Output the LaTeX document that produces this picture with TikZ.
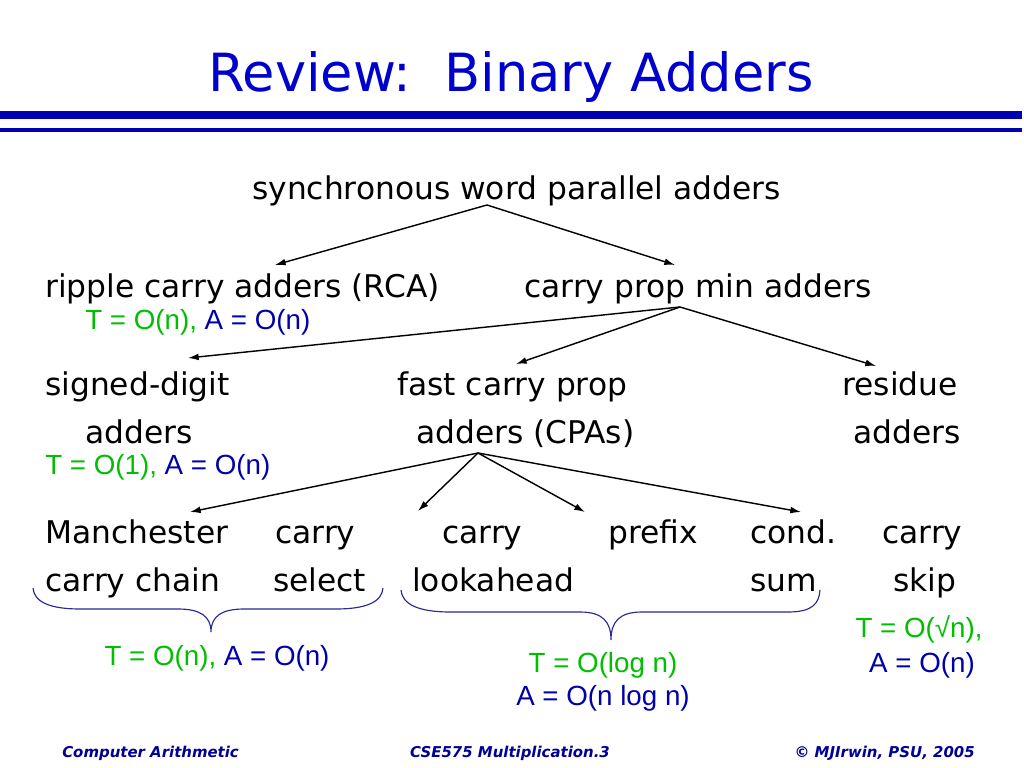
\documentclass[tikz,border=0pt]{standalone}
\usepackage{fontspec}
\setmainfont{DejaVu Sans}
\newfontfamily\arialf{Liberation Sans}
\usetikzlibrary{arrows.meta}
\definecolor{titleblue}{RGB}{0,0,204}
\definecolor{rulebl}{RGB}{0,0,176}
\definecolor{tgreen}{RGB}{0,190,0}
\definecolor{ablue}{RGB}{0,0,170}
\definecolor{bracec}{RGB}{40,40,150}
\definecolor{footblue}{RGB}{0,0,150}
\begin{document}
\begin{tikzpicture}[x=0.703125pt,y=-0.703125pt,
  lbl/.style={inner sep=0pt,font=\fontsize{22}{26}\selectfont,anchor=base west},
  cplx/.style={inner sep=0pt,font=\arialf\fontsize{19.5}{23}\selectfont,anchor=base},
  arr/.style={-{Latex[length=7.5pt,width=4.8pt]},line width=1pt},
  brace/.style={draw=bracec,line width=0.8pt},
  foot/.style={inner sep=0pt,font=\bfseries\itshape\fontsize{10.5}{12}\selectfont,text=footblue}]
\useasboundingbox[fill=white] (0,0) rectangle (1024,768);
% title and rules
\node[inner sep=0pt,anchor=base,text=titleblue,font=\fontsize{37}{44}\selectfont] (title) at (511,92) {Review:~~Binary Adders};
\fill[rulebl] (0,111) rectangle (1022,119);
\fill[rulebl] (0,128) rectangle (1022,132);
% tree texts
\node[lbl] (sync) at (252,200) {synchronous word parallel adders};
\node[lbl] (rca) at (45,298) {ripple carry adders (RCA)};
\node[lbl] (cpm) at (524,298) {carry prop min adders};
\node[cplx,anchor=base west] (rcat) at (85,330) {\textcolor{tgreen}{T = O(n),} \textcolor{ablue}{A = O(n)}};
\node[lbl] (sd1) at (45,395) {signed-digit};
\node[lbl] (sd2) at (85,443) {adders};
\node[cplx,anchor=base west] (sdt) at (45,474) {\textcolor{tgreen}{T = O(1),} \textcolor{ablue}{A = O(n)}};
\node[lbl] (fc1) at (397,395) {fast carry prop};
\node[lbl] (fc2) at (416,443) {adders (CPAs)};
\node[lbl] (rs1) at (842,395) {residue};
\node[lbl] (rs2) at (853,443) {adders};
\node[lbl] (man1) at (45,543) {Manchester};
\node[lbl] (man2) at (45,591) {carry chain};
\node[lbl] (cs1) at (275,543) {carry};
\node[lbl] (cs2) at (273,591) {select};
\node[lbl] (cla1) at (442,543) {carry};
\node[lbl] (cla2) at (412,591) {lookahead};
\node[lbl] (pre) at (608,543) {prefix};
\node[lbl] (cond1) at (750,543) {cond.};
\node[lbl] (cond2) at (750,591) {sum};
\node[lbl] (skip1) at (882,543) {carry};
\node[lbl] (skip2) at (893,591) {skip};
% complexity labels
\node[cplx] (b1t) at (217,665) {\textcolor{tgreen}{T = O(n),} \textcolor{ablue}{A = O(n)}};
\node[cplx,text=tgreen] (b2t) at (603,672) {T = O(log n)};
\node[cplx,text=ablue] (b2a) at (603,705) {A = O(n log n)};
\node[cplx,text=tgreen] (skt) at (919,637) {T = O(√n),};
\node[cplx,text=ablue] (ska) at (922,672) {A = O(n)};
% footer
\node[foot,anchor=base west] (f1) at (62,757) {Computer Arithmetic};
\node[foot,anchor=base] (f2) at (510,757) {CSE575 Multiplication.3};
\node[foot,anchor=base east] (f3) at (975,757) {© MJIrwin, PSU, 2005};
% connector points
\coordinate (s0) at (487,205);
\coordinate (t0a) at (275,265);
\coordinate (t0b) at (675,265);
\coordinate (s1) at (680,307);
\coordinate (t1a) at (188,358);
\coordinate (t1b) at (516,364);
\coordinate (t1c) at (876,366);
\coordinate (s2) at (478,453);
\coordinate (t2a) at (190,512);
\coordinate (t2b) at (418,511);
\coordinate (t2c) at (585,512);
\coordinate (t2d) at (801,512);
\draw[arr] (s0) -- (t0a);
\draw[arr] (s0) -- (t0b);
\draw[arr] (s1) -- (t1a);
\draw[arr] (s1) -- (t1b);
\draw[arr] (s1) -- (t1c);
\draw[arr] (s2) -- (t2a);
\draw[arr] (s2) -- (t2b);
\draw[arr] (s2) -- (t2c);
\draw[arr] (s2) -- (t2d);
% braces
\draw[brace] (33,588) .. controls (34,602) and (50,609) .. (80,609) -- (178,609)
  .. controls (200,609) and (211,616) .. (211,632)
  .. controls (211,616) and (222,609) .. (244,609) -- (336,609)
  .. controls (366,609) and (382,602) .. (383,588);
\draw[brace] (401,590) .. controls (402,604) and (418,612) .. (450,612) -- (580,612)
  .. controls (603,612) and (611,622) .. (611,640)
  .. controls (611,622) and (619,612) .. (642,612) -- (788,612)
  .. controls (812,612) and (819,604) .. (820,590);
\end{tikzpicture}
\end{document}
